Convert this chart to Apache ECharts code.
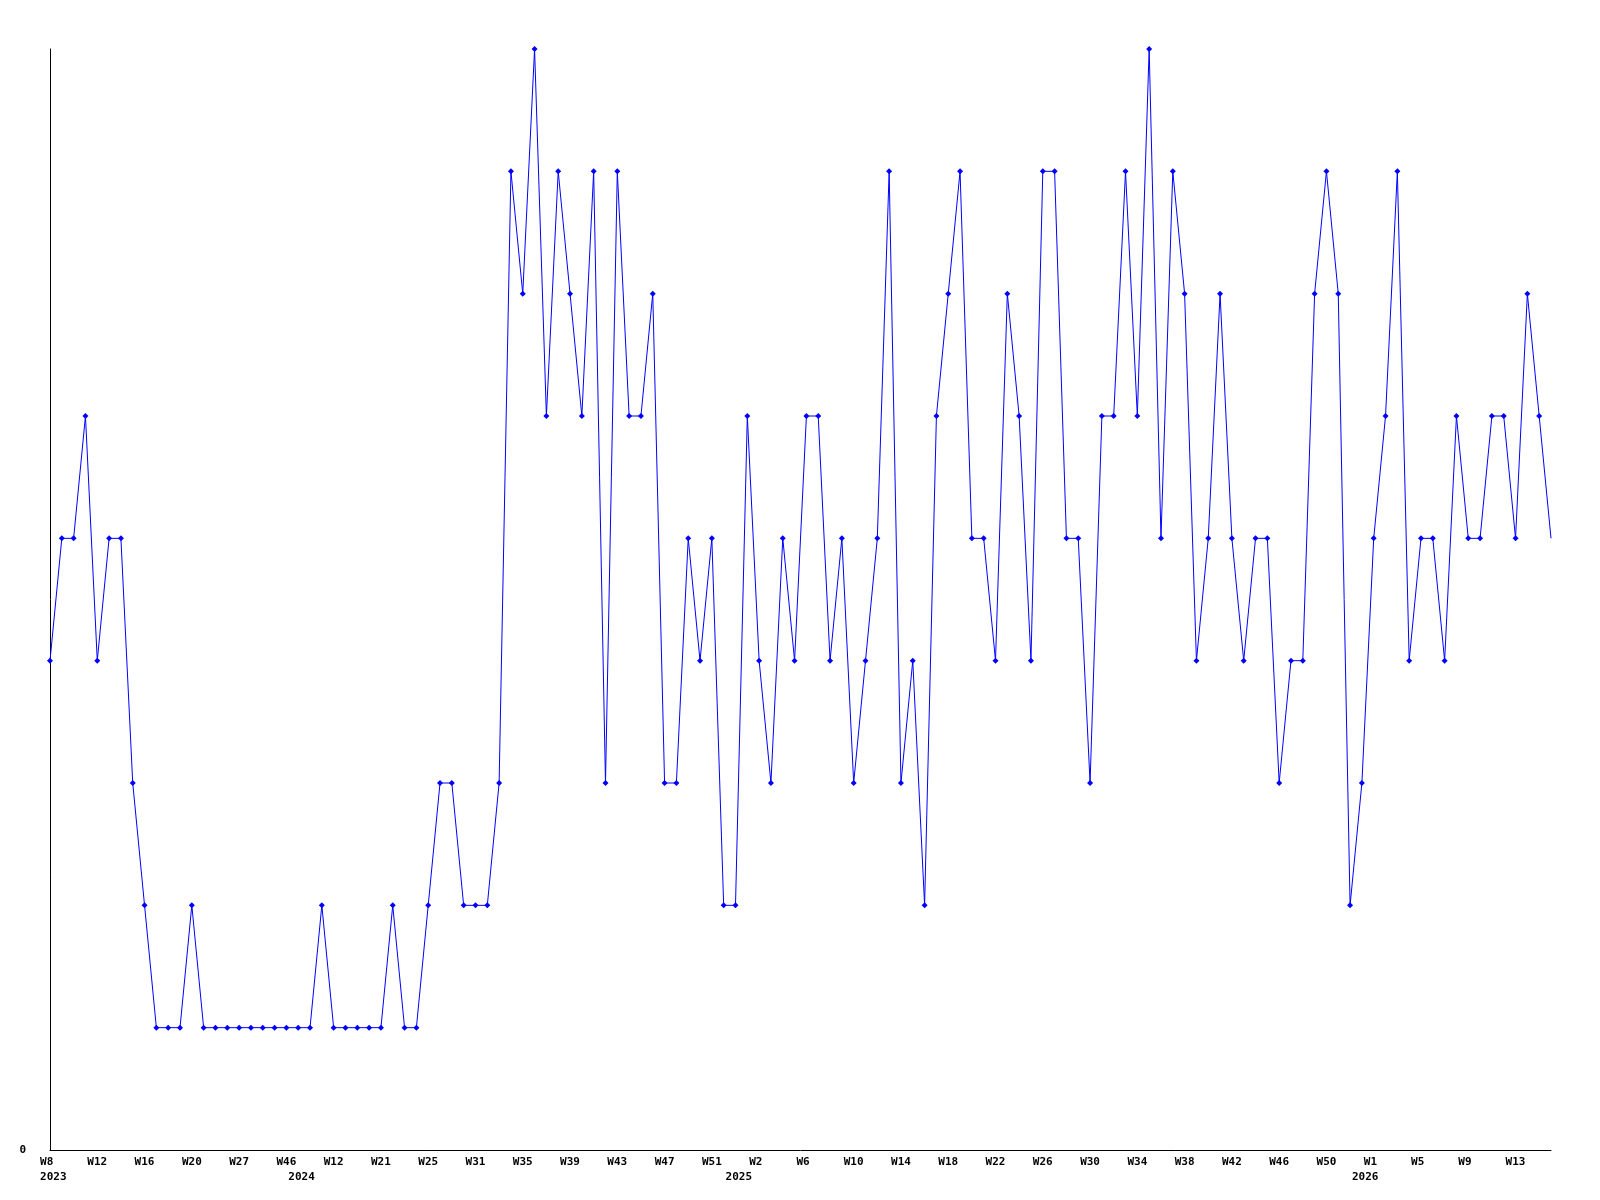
<!DOCTYPE html>
<html>
<head>
<meta charset="utf-8">
<script src="https://cdn.jsdelivr.net/npm/echarts@6/dist/echarts.min.js"></script>
<style>
html,body{margin:0;padding:0;background:#fff;}
#c{width:1600px;height:1200px;}
</style>
</head>
<body>
<div id="c"></div>
<script>
// Week numbers per year (categories in order)
const weeks2023 = [8,9,10,11,12,13,14,15,16,17,18,19,20,22,24,25,27,30,35,40,46];
const weeks2024 = [2,5,9,12,14,16,19,21,22,23,24,25,27,28,30,31,32,33,34,35,36,37,38,39,40,41,42,43,44,45,46,47,48,49,50,51,52];
const weeks2025 = [0,1,2,3,4,5,6,7,8,9,10,11,12,13,14,15,16,17,18,19,20,21,22,23,24,25,26,27,28,29,30,31,32,33,34,35,36,37,38,39,40,41,42,43,44,45,46,47,48,49,50,51,52];
const weeks2026 = [0,1,2,3,4,5,6,7,8,9,10,11,12,13,14,15,16];

// Weekly values
const values = [
  4,5,5,6,4,5,5,3,2,1,
  1,1,2,1,1,1,1,1,1,1,
  1,1,1,2,1,1,1,1,1,2,
  1,1,2,3,3,2,2,2,3,8,
  7,9,6,8,7,6,8,3,8,6,
  6,7,3,3,5,4,5,2,2,6,
  4,3,5,4,6,6,4,5,3,4,
  5,8,3,4,2,6,7,8,5,5,
  4,7,6,4,8,8,5,5,3,6,
  6,8,6,9,5,8,7,4,5,7,
  5,4,5,5,3,4,4,7,8,7,
  2,3,5,6,8,4,5,5,4,6,
  5,5,6,6,5,7,6,5
];

const yAxisMax = 9;

// Build categories
const categories = [];
[[2023, weeks2023],[2024, weeks2024],[2025, weeks2025],[2026, weeks2026]].forEach(function (p) {
  p[1].forEach(function (w) { categories.push(p[0] + '-W' + w); });
});
function yearOf(c) { return c.split('-')[0]; }
function weekOf(c) { return c.split('-')[1]; }
function isYearStart(i) { return i === 0 || yearOf(categories[i]) !== yearOf(categories[i - 1]); }

// last point is drawn without a marker in the reference
const seriesData = values.map(function (v, i) {
  return i === values.length - 1 ? { value: v, symbol: 'none' } : v;
});

const font = { fontFamily: 'DejaVu Sans Mono', fontWeight: 'bold', fontSize: 11, color: '#000' };

const chart = echarts.init(document.getElementById('c'), null, { renderer: 'canvas' });
chart.setOption({
  backgroundColor: '#fff',
  animation: false,
  grid: { left: 50, right: 49, top: 49, bottom: 50, containLabel: false },
  xAxis: [
    {
      type: 'category',
      data: categories,
      boundaryGap: false,
      position: 'bottom',
      axisLine: { show: true, lineStyle: { color: '#000', width: 1 } },
      axisTick: { show: false },
      splitLine: { show: false },
      axisLabel: Object.assign({
        interval: 3,
        margin: 7,
        align: 'center',
        formatter: function (v) { const w = weekOf(v); return w.length < 3 ? w + ' ' : w; }
      }, font)
    },
    {
      type: 'category',
      data: categories,
      boundaryGap: false,
      position: 'bottom',
      axisLine: { show: false },
      axisTick: { show: false },
      splitLine: { show: false },
      axisLabel: Object.assign({
        interval: function (i) { return isYearStart(i); },
        margin: 22,
        align: 'center',
        formatter: function (v) { return ' ' + yearOf(v); }
      }, font)
    }
  ],
  yAxis: {
    type: 'value',
    min: 0,
    max: yAxisMax,
    interval: 1,
    axisLine: { show: true, lineStyle: { color: '#000', width: 1 } },
    axisTick: { show: false },
    splitLine: { show: false },
    axisLabel: Object.assign({
      margin: 24,
      formatter: function (v) { return v === 0 ? '0' : ''; }
    }, font)
  },
  series: [{
    type: 'line',
    data: seriesData,
    xAxisIndex: 0,
    symbol: 'diamond',
    symbolSize: 6,
    showAllSymbol: true,
    itemStyle: { color: '#0000ff' },
    lineStyle: { color: '#0000ff', width: 1 },
    emphasis: { disabled: true }
  }]
});
</script>
</body>
</html>
